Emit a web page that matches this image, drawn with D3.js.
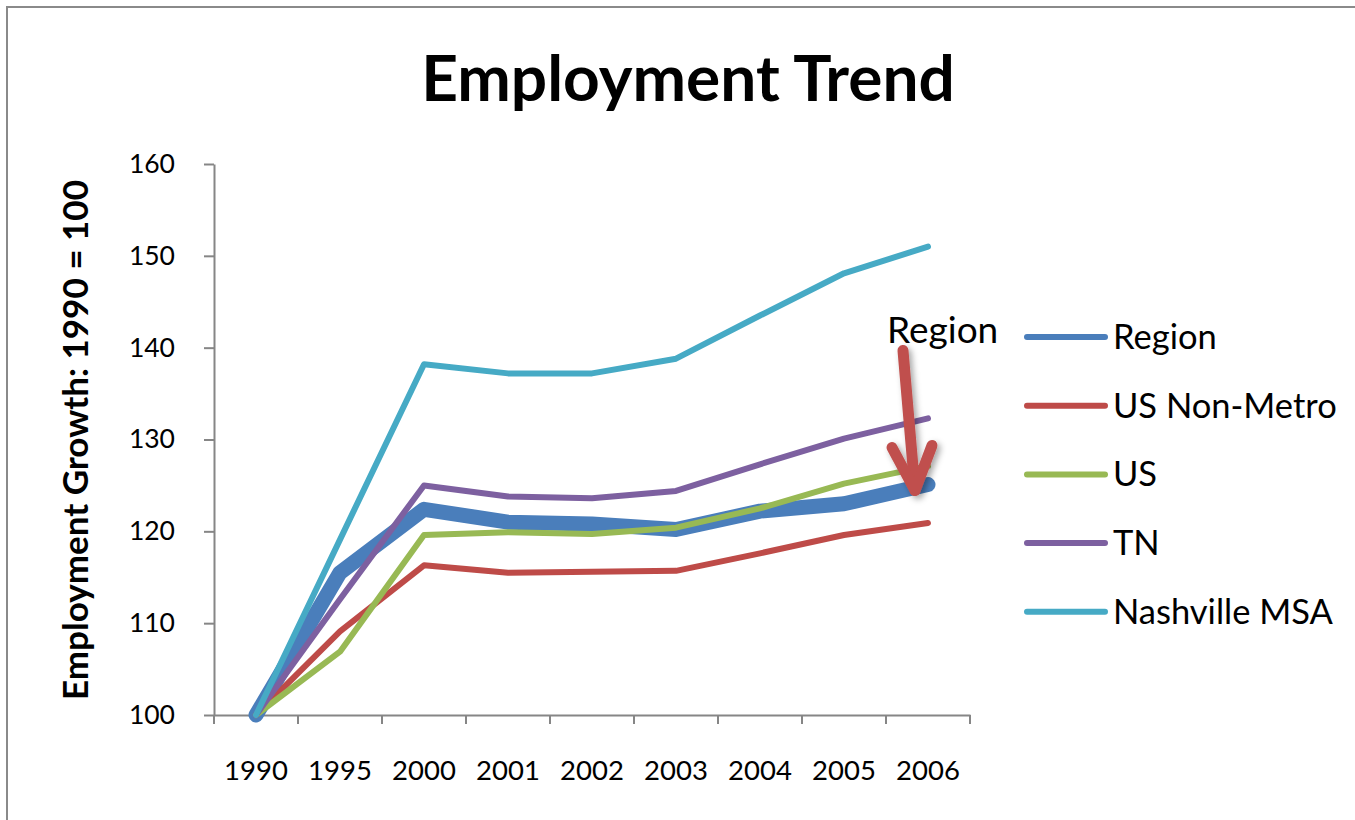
<!DOCTYPE html>
<html>
<head>
<meta charset="utf-8">
<script src="https://cdn.jsdelivr.net/npm/d3@7"></script>
<style>
  html, body { margin: 0; padding: 0; background: #fff; }
  svg { display: block; font-family: Lato, "Open Sans", sans-serif; }
</style>
</head>
<body>
<svg id="chart" width="1355" height="820"></svg>
<script>
// Employment index, 1990 = 100
const years = ["1990", "1995", "2000", "2001", "2002", "2003", "2004", "2005", "2006"];
const region     = [100, 115.5, 122.4, 121.0, 120.8, 120.2, 122.2, 123.0, 125.1];
const usNonMetro = [100, 109.1, 116.3, 115.5, 115.6, 115.7, 117.6, 119.6, 120.9];
const us         = [100, 106.9, 119.6, 119.9, 119.7, 120.4, 122.5, 125.2, 127.1];
const tn         = [100, 112.6, 125.0, 123.8, 123.6, 124.4, 127.3, 130.1, 132.3];
const nashville  = [100, 119.1, 138.2, 137.2, 137.2, 138.8, 143.5, 148.1, 151.0];
const yTicks = [100, 110, 120, 130, 140, 150, 160];

const seriesNames = ["Region", "US Non-Metro", "US", "TN", "Nashville MSA"];
const seriesValues = [region, usNonMetro, us, tn, nashville];
const seriesColors = ["#4A7EBB", "#BE4B48", "#98B954", "#7D60A0", "#46AAC5"];
const seriesWidths = [15, 6, 6, 6, 6];

const svg = d3.select("#chart");

// chart frame
svg.append("rect")
  .attr("x", 7).attr("y", 7).attr("width", 1360).attr("height", 830)
  .attr("fill", "#fff").attr("stroke", "#8a8a8a").attr("stroke-width", 2);

// drop shadow for the callout arrow
const defs = svg.append("defs");
defs.append("filter").attr("id", "shadow")
  .attr("x", "-50%").attr("y", "-50%").attr("width", "200%").attr("height", "200%")
  .append("feDropShadow")
  .attr("dx", 3).attr("dy", 3).attr("stdDeviation", 3)
  .attr("flood-color", "#000").attr("flood-opacity", 0.35);

const plot = { left: 214, right: 970, top: 164, bottom: 715 };

const x = d3.scaleBand().domain(years).range([plot.left, plot.right]).paddingInner(0).paddingOuter(0);
const y = d3.scaleLinear().domain([100, 160]).range([plot.bottom, plot.top]);
const cx = d => x(d) + x.bandwidth() / 2;

// title
svg.append("text")
  .attr("x", 688).attr("y", 101)
  .attr("text-anchor", "middle")
  .attr("font-size", 64).attr("font-weight", 700)
  .text("Employment Trend");

// y axis
const yAxis = svg.append("g")
  .attr("transform", `translate(${plot.left},0)`)
  .call(d3.axisLeft(y).tickValues(yTicks).tickSize(10).tickPadding(29).tickSizeOuter(0));
yAxis.select(".domain").attr("stroke", "#868686").attr("stroke-width", 2);
yAxis.selectAll(".tick line").attr("stroke", "#868686").attr("stroke-width", 2);
yAxis.selectAll(".tick text").attr("font-size", 26.5).attr("fill", "#000")
  .attr("font-family", "Lato, sans-serif");

// x axis: labels at category centres, ticks on category boundaries
const xAxis = svg.append("g")
  .attr("transform", `translate(0,${plot.bottom})`)
  .call(d3.axisBottom(x).tickSize(0).tickPadding(45).tickSizeOuter(0));
xAxis.select(".domain").attr("stroke", "#868686").attr("stroke-width", 2);
xAxis.selectAll(".tick text").attr("font-size", 27.5).attr("fill", "#000")
  .attr("font-family", "Lato, sans-serif");
xAxis.selectAll(".boundary")
  .data(years.concat(["end"]))
  .join("line")
  .attr("class", "boundary")
  .attr("x1", (d, i) => plot.left + i * x.step())
  .attr("x2", (d, i) => plot.left + i * x.step())
  .attr("y1", 0).attr("y2", 9)
  .attr("stroke", "#868686").attr("stroke-width", 2);

// y axis title
svg.append("text")
  .attr("transform", `translate(88,440) rotate(-90)`)
  .attr("text-anchor", "middle")
  .attr("font-size", 35).attr("font-weight", 700)
  .text("Employment Growth: 1990 = 100");

// series lines
const line = d3.line().x((d, i) => cx(years[i])).y(d => y(d));
svg.append("g").selectAll("path")
  .data(seriesValues)
  .join("path")
  .attr("d", d => line(d))
  .attr("fill", "none")
  .attr("stroke", (d, i) => seriesColors[i])
  .attr("stroke-width", (d, i) => seriesWidths[i])
  .attr("stroke-linejoin", "round")
  .attr("stroke-linecap", "round");

// callout arrow pointing at the last Region value
const tipX = cx(years[years.length - 1]) - 13;
const tipY = y(region[region.length - 1]) + 6;
const arrow = svg.append("g").attr("filter", "url(#shadow)")
  .attr("stroke", "#C0504D").attr("stroke-width", 11)
  .attr("stroke-linecap", "round").attr("stroke-linejoin", "round").attr("fill", "none");
arrow.append("line")
  .attr("x1", tipX - 12).attr("y1", tipY - 140)
  .attr("x2", tipX).attr("y2", tipY);
arrow.append("polyline")
  .attr("points", [[tipX - 23, tipY - 43], [tipX, tipY], [tipX + 17, tipY - 45]].map(p => p.join(",")).join(" "));

svg.append("text")
  .attr("x", 887).attr("y", 343)
  .attr("font-size", 37)
  .text("Region");

// legend
const legend = svg.append("g").attr("transform", "translate(1027,337)");
const items = legend.selectAll("g")
  .data(seriesNames)
  .join("g")
  .attr("transform", (d, i) => `translate(0,${i * 68.7})`);
items.append("line")
  .attr("x1", 0).attr("x2", 78).attr("y1", 0).attr("y2", 0)
  .attr("stroke", (d, i) => seriesColors[i])
  .attr("stroke-width", 6).attr("stroke-linecap", "round");
items.append("text")
  .attr("x", 86).attr("y", 12)
  .attr("font-size", 34.5)
  .text(d => d);
</script>
</body>
</html>
